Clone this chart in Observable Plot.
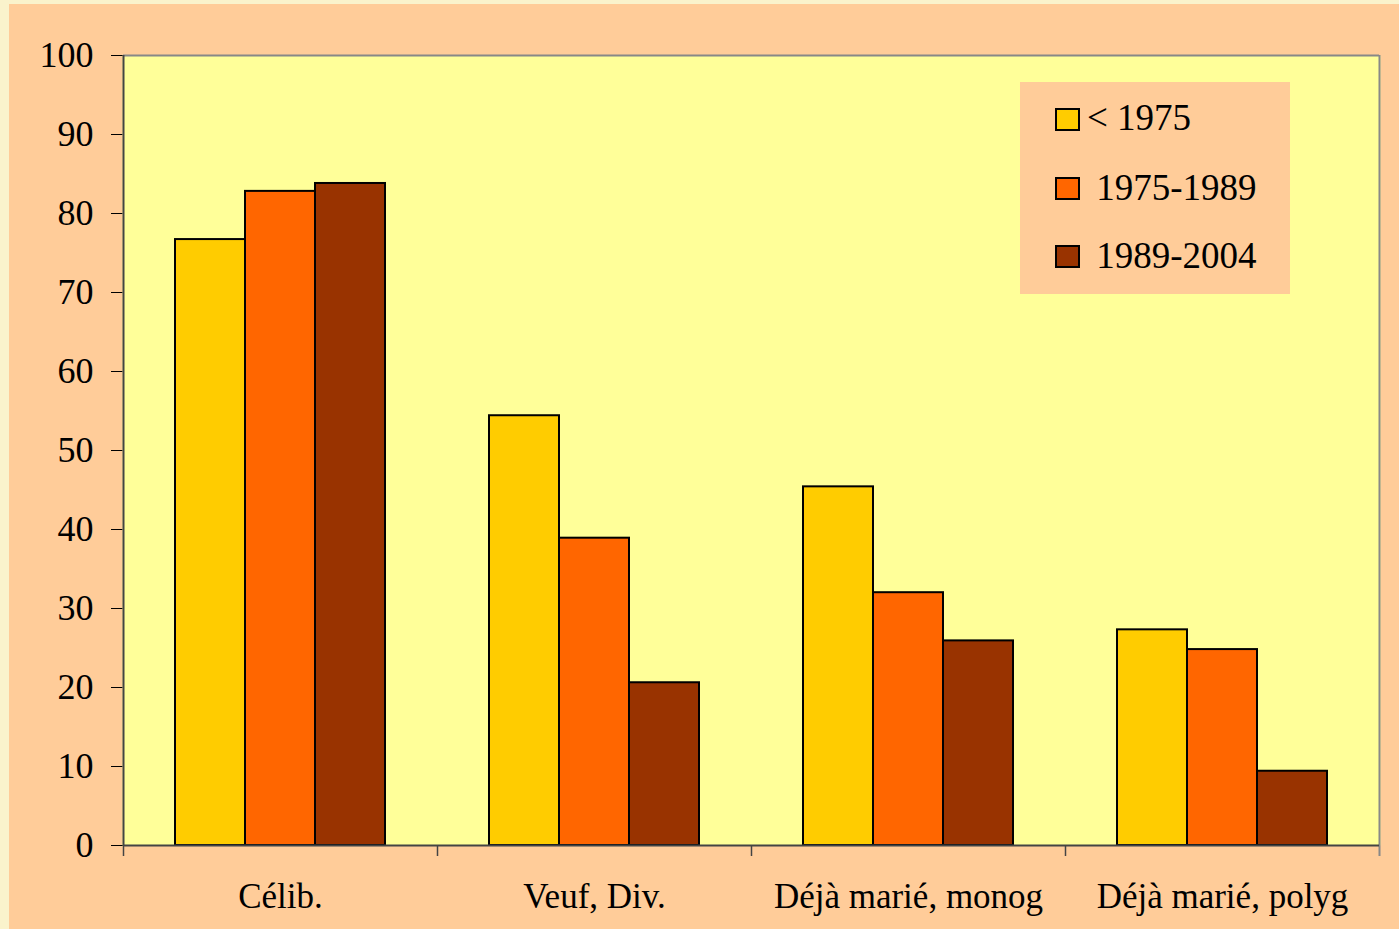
<!DOCTYPE html>
<html><head><meta charset="utf-8">
<script src="https://cdn.jsdelivr.net/npm/d3@7"></script>
<script src="https://cdn.jsdelivr.net/npm/@observablehq/plot@0.6"></script>
<style>
html,body{margin:0;padding:0;background:#FAF3CC;width:1399px;height:929px;overflow:hidden;}
#wrap{position:absolute;left:9px;top:4px;width:1390px;height:925px;background:#FFCC99;overflow:hidden;font-family:"Liberation Serif","Times New Roman",serif;}
#chart{position:absolute;left:0;top:0;}
#legend{position:absolute;left:1011px;top:78px;width:270px;height:212px;background:#FFCC99;}
.sw{position:absolute;left:35px;width:25px;height:23px;box-sizing:border-box;border:2px solid #000;}
.lt{position:absolute;left:67px;font-size:37px;line-height:37px;white-space:pre;color:#000;}
</style></head>
<body>
<div id="wrap"><div id="chart"></div><div id="legend"></div></div>
<script>
const categories = ["Célib.", "Veuf, Div.", "Déjà marié, monog", "Déjà marié, polyg"];
const series = ["< 1975", "1975-1989", "1989-2004"];
const legendLabels = ["< 1975", "\u00a01975-1989", "\u00a01989-2004"];
const valuesBefore1975 = [76.7, 54.4, 45.4, 27.3];
const values1975to1989 = [82.8, 38.9, 32.0, 24.8];
const values1989to2004 = [83.8, 20.6, 25.9, 9.4];
const yTicks = [0, 10, 20, 30, 40, 50, 60, 70, 80, 90, 100];
const colors = ["#FFCC00", "#FF6600", "#993300"];

const seriesValues = [valuesBefore1975, values1975to1989, values1989to2004];
const table = [];
categories.forEach((c, ci) => {
  series.forEach((s, si) => {
    table.push({category: c, series: s, idx: si, value: seriesValues[si][ci]});
  });
});

const pad = 52 / 70;
const plot = Plot.plot({
  width: 1390, height: 925,
  marginLeft: 114, marginRight: 20, marginTop: 51, marginBottom: 84,
  style: {fontFamily: "Liberation Serif, Times New Roman, serif", fontSize: "36px", background: "transparent", color: "black"},
  fx: {domain: categories, padding: 0, label: null},
  x: {domain: [-pad, 3 + pad], axis: null},
  y: {domain: [0, 100], ticks: yTicks, tickSize: 12, tickPadding: 18, label: null},
  color: {domain: series, range: colors},
  marks: [
    Plot.frame({fill: "#FFFF99", stroke: null, insetLeft: -1, insetRight: -1}),
    Plot.ruleY([100], {stroke: "#888", strokeWidth: 2}),
    Plot.rect(table, {fx: "category", x1: "idx", x2: d => d.idx + 1, y1: 0, y2: "value", fill: "series", stroke: "black", strokeWidth: 2}),
    Plot.ruleX(categories, {fx: d => d, x: -pad, y1: 0, y2: 0, insetBottom: -11, stroke: "#444", strokeWidth: 1.5}),
    Plot.ruleX([categories[0]], {fx: d => d, x: -pad, stroke: "#444", strokeWidth: 2}),
    Plot.ruleX([categories[categories.length - 1]], {fx: d => d, x: 3 + pad, stroke: "#888", strokeWidth: 2, insetBottom: -11}),
    Plot.ruleY([0], {stroke: "#444", strokeWidth: 2}),
    Plot.axisFx({anchor: "bottom", tickSize: 0, tickPadding: 38, fontSize: 35, label: null})
  ]
});
document.getElementById("chart").appendChild(plot);

const legend = document.getElementById("legend");
const swTops = [26, 95, 163];
const txtTops = [17, 87, 155];
series.forEach((s, i) => {
  const sw = document.createElement("div");
  sw.className = "sw";
  sw.style.top = swTops[i] + "px";
  sw.style.background = colors[i];
  legend.appendChild(sw);
  const t = document.createElement("div");
  t.className = "lt";
  t.style.top = txtTops[i] + "px";
  t.textContent = legendLabels[i];
  legend.appendChild(t);
});
</script>
</body></html>
